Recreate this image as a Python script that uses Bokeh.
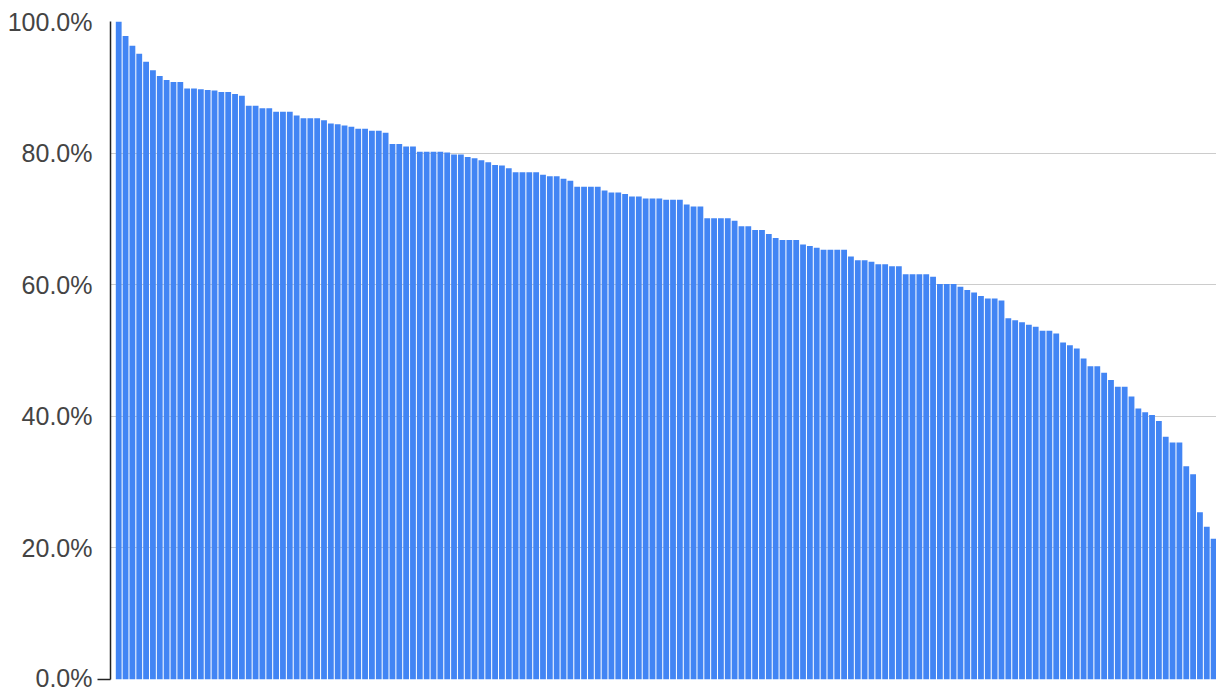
from bokeh.plotting import figure
from bokeh.models import Range1d, FixedTicker, PrintfTickFormatter, ColumnDataSource
from bokeh.embed import file_html
from bokeh.resources import INLINE

# values in percent, sorted descending
values = [
    100.0, 97.8, 96.3, 95.1, 93.9, 92.6, 91.7, 91.1, 90.8, 90.8,
    89.8, 89.8, 89.7, 89.6, 89.5, 89.3, 89.3, 89.0, 88.7, 87.2,
    87.2, 86.8, 86.8, 86.3, 86.3, 86.3, 85.7, 85.3, 85.3, 85.3,
    85.0, 84.5, 84.4, 84.2, 84.0, 83.7, 83.7, 83.4, 83.4, 83.1,
    81.4, 81.4, 81.0, 81.0, 80.2, 80.2, 80.2, 80.2, 80.1, 79.8,
    79.8, 79.4, 79.2, 78.9, 78.6, 78.2, 78.1, 77.7, 77.1, 77.1,
    77.1, 77.1, 76.7, 76.5, 76.5, 76.1, 75.8, 74.9, 74.9, 74.9,
    74.9, 74.3, 74.0, 74.0, 73.8, 73.4, 73.4, 73.1, 73.1, 73.1,
    72.9, 72.9, 72.9, 72.2, 71.9, 71.9, 70.1, 70.1, 70.1, 70.1,
    69.7, 68.9, 68.9, 68.3, 68.3, 67.7, 67.1, 66.8, 66.8, 66.8,
    66.1, 65.9, 65.6, 65.3, 65.3, 65.3, 65.3, 64.3, 63.7, 63.7,
    63.5, 63.1, 63.1, 62.8, 62.8, 61.6, 61.6, 61.6, 61.6, 61.2,
    60.1, 60.1, 60.1, 59.7, 59.2, 58.8, 58.3, 57.9, 57.9, 57.6,
    54.9, 54.6, 54.3, 53.9, 53.6, 53.0, 53.0, 52.6, 51.2, 50.8,
    50.3, 48.8, 47.6, 47.6, 46.6, 45.5, 44.5, 44.5, 43.0, 41.2,
    40.6, 40.2, 39.3, 36.9, 36.0, 36.0, 32.4, 31.2, 25.4, 23.2,
    21.4,
]
positions = list(range(1, len(values) + 1))
y_ticks = [0, 20, 40, 60, 80, 100]
baseline_tick = [0]

src = ColumnDataSource(dict(x=positions, top=values))

p = figure(width=1216, height=691, output_backend="svg", toolbar_location=None,
           x_range=Range1d(-0.2, len(values) + 0.42), y_range=Range1d(0, 100),
           x_axis_location=None,
           min_border_left=110, min_border_right=0, min_border_top=21, min_border_bottom=12)
p.outline_line_color = None
p.xgrid.grid_line_color = None
p.ygrid.grid_line_color = "#cccccc"
p.ygrid.grid_line_width = 1

p.vbar(x="x", top="top", bottom=0, width=0.85, source=src,
       fill_color="#4285F4", line_color=None)

ax = p.yaxis[0]
ax.ticker = FixedTicker(ticks=y_ticks, minor_ticks=baseline_tick)
ax.formatter = PrintfTickFormatter(format="%.1f%%")
ax.axis_line_color = "#222222"
ax.axis_line_width = 1.5
ax.major_tick_line_color = None
ax.major_tick_out = 0
ax.major_tick_in = 0
ax.minor_tick_line_color = "#222222"
ax.minor_tick_line_width = 1.5
ax.minor_tick_out = 13
ax.minor_tick_in = 0
ax.major_label_standoff = 5
ax.major_label_text_font = "Liberation Sans"
ax.major_label_text_font_size = "25px"
ax.major_label_text_color = "#444444"

open("out.html", "w").write(file_html(p, INLINE))
